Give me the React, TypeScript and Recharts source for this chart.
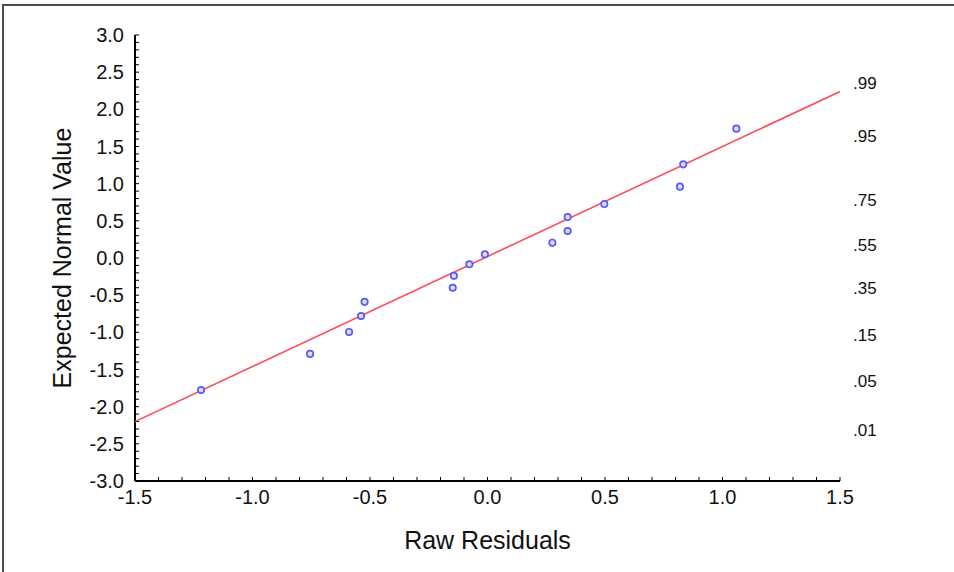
import React from "react";
import { ScatterChart, Scatter, XAxis, YAxis, Label } from "recharts";

// Raw residuals (x) and expected normal values (y)
const residuals = [-1.219, -0.755, -0.589, -0.538, -0.523, -0.148, -0.143, -0.077, -0.011, 0.276, 0.341, 0.341, 0.497, 0.819, 0.833, 1.059];
const expectedNormal = [-1.776, -1.29, -0.995, -0.78, -0.59, -0.4, -0.24, -0.085, 0.05, 0.206, 0.363, 0.55, 0.726, 0.96, 1.26, 1.74];

// fitted line end points
const fitX = [-1.5, 1.5];
const fitY = [-2.2, 2.24];

// axis ticks
const xTicks = [-1.5, -1.4, -1.3, -1.2, -1.1, -1.0, -0.9, -0.8, -0.7, -0.6, -0.5, -0.4, -0.3, -0.2, -0.1, 0.0, 0.1, 0.2, 0.3, 0.4, 0.5, 0.6, 0.7, 0.8, 0.9, 1.0, 1.1, 1.2, 1.3, 1.4, 1.5];
const yTicks = [-3.0, -2.9, -2.8, -2.7, -2.6, -2.5, -2.4, -2.3, -2.2, -2.1, -2.0, -1.9, -1.8, -1.7, -1.6, -1.5, -1.4, -1.3, -1.2, -1.1, -1.0, -0.9, -0.8, -0.7, -0.6, -0.5, -0.4, -0.3, -0.2, -0.1, 0.0, 0.1, 0.2, 0.3, 0.4, 0.5, 0.6, 0.7, 0.8, 0.9, 1.0, 1.1, 1.2, 1.3, 1.4, 1.5, 1.6, 1.7, 1.8, 1.9, 2.0, 2.1, 2.2, 2.3, 2.4, 2.5, 2.6, 2.7, 2.8, 2.9, 3.0];

// probability scale on the right
const probLabels = [".99", ".95", ".75", ".55", ".35", ".15", ".05", ".01"];
const probPositions = [2.36, 1.64, 0.78, 0.17, -0.4, -1.04, -1.66, -2.31];

const points = residuals.map((x, i) => ({ x, y: expectedNormal[i] }));
const fitLine = fitX.map((x, i) => ({ x, y: fitY[i] }));

const isMajor = (v: number) => Math.abs(v * 2 - Math.round(v * 2)) < 1e-6;
const fmtMajor = (v: number) => (isMajor(v) ? v.toFixed(1) : "");
const fmtProb = (v: number) => {
  const i = probPositions.indexOf(v);
  return i >= 0 ? probLabels[i] : "";
};

const FONT = "'Liberation Sans', Arial, sans-serif";
const tickStyle = { fontSize: 20, fill: "#111", fontFamily: FONT };

const Dot = (props: any) => {
  const { cx, cy } = props;
  if (cx == null || cy == null) return <g />;
  return <circle cx={cx} cy={cy} r={3.2} fill="#dcdcff" stroke="#5a5af5" strokeWidth={1.7} />;
};
const NoDot = () => <g />;

export default function App() {
  return (
    <div style={{ position: "absolute", left: 0, top: 0, width: 954, height: 572, background: "#fff" }}>
      <div
        style={{
          position: "absolute",
          left: 2,
          top: 4,
          width: 952,
          height: 568,
          borderTop: "2px solid #4d4d4d",
          borderLeft: "2px solid #4d4d4d",
        }}
      />
      <ScatterChart
        width={954}
        height={572}
        margin={{ top: 35, right: 0, bottom: 0, left: 0 }}
        style={{ position: "absolute", left: 0, top: 0 }}
      >
        <XAxis
          xAxisId="b"
          type="number"
          dataKey="x"
          domain={[-1.5, 1.5]}
          ticks={xTicks}
          interval={0}
          tickFormatter={fmtMajor}
          height={91}
          axisLine={{ stroke: "#000", strokeWidth: 2 }}
          tickLine={{ stroke: "#000", strokeWidth: 1 }}
          tickSize={-4}
          tickMargin={13}
          tick={tickStyle}
          allowDataOverflow
        >
          <Label value="Raw Residuals" position="center" dy={14} style={{ fontSize: 25, fill: "#111", fontFamily: FONT }} />
        </XAxis>
        <XAxis
          xAxisId="t"
          orientation="top"
          type="number"
          domain={[-1.5, 1.5]}
          ticks={xTicks}
          interval={0}
          tick={false}
          height={0}
          axisLine={{ stroke: "#000", strokeWidth: 2 }}
          tickLine={{ stroke: "#000", strokeWidth: 1 }}
          tickSize={-4}
          allowDataOverflow
        />
        <YAxis
          yAxisId="l"
          type="number"
          dataKey="y"
          domain={[-3, 3]}
          ticks={yTicks}
          interval={0}
          tickFormatter={fmtMajor}
          width={135}
          axisLine={{ stroke: "#000", strokeWidth: 2 }}
          tickLine={{ stroke: "#000", strokeWidth: 1 }}
          tickSize={-4}
          tickMargin={15}
          tick={tickStyle}
          allowDataOverflow
        >
          <Label
            value="Expected Normal Value"
            position="center"
            angle={-90}
            dx={-5}
            style={{ fontSize: 25, fill: "#111", fontFamily: FONT }}
          />
        </YAxis>
        <YAxis
          yAxisId="r"
          orientation="right"
          type="number"
          domain={[-3, 3]}
          ticks={yTicks}
          interval={0}
          tick={false}
          width={0}
          axisLine={{ stroke: "#000", strokeWidth: 2 }}
          tickLine={{ stroke: "#000", strokeWidth: 1 }}
          tickSize={-4}
          allowDataOverflow
        />
        <YAxis
          yAxisId="p"
          orientation="right"
          type="number"
          domain={[-3, 3]}
          ticks={probPositions}
          interval={0}
          tickFormatter={fmtProb}
          width={114}
          axisLine={false}
          tickLine={false}
          tickSize={0}
          tickMargin={13}
          tick={{ fontSize: 17, fill: "#111", fontFamily: FONT }}
          allowDataOverflow
        />
        <Scatter
          xAxisId="b"
          yAxisId="l"
          data={fitLine}
          line={{ stroke: "#ff4d5a", strokeWidth: 1.6 }}
          shape={NoDot}
          isAnimationActive={false}
        />
        <Scatter xAxisId="b" yAxisId="l" data={points} shape={Dot} isAnimationActive={false} />
      </ScatterChart>
    </div>
  );
}
